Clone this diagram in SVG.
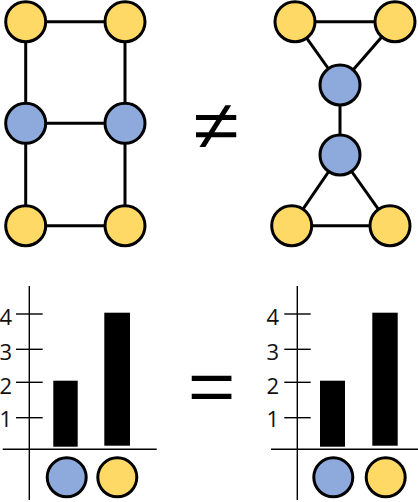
<svg xmlns="http://www.w3.org/2000/svg" width="418" height="502" viewBox="0 0 418 502">
<style>
.e{stroke:#000;stroke-width:3;fill:none}
.ax{stroke:#000;stroke-width:1.4;fill:none}
.y{fill:#FFD966;stroke:#000;stroke-width:3}
.b{fill:#8EA9DB;stroke:#000;stroke-width:3}
.lbl{font-family:"Open Sans","Liberation Sans",sans-serif;font-size:22px;fill:#111}
.sym{font-family:"Liberation Sans",sans-serif;fill:#000}
</style>
<rect width="418" height="502" fill="#fff"/>
<g id="connectors">
<line class="e" x1="25.7" y1="21.7" x2="125" y2="21.7"/>
<line class="e" x1="25.7" y1="21.7" x2="25.7" y2="225.7"/>
<line class="e" x1="125" y1="21.7" x2="125" y2="225.7"/>
<line class="e" x1="25.7" y1="123.3" x2="125" y2="123.3"/>
<line class="e" x1="25.7" y1="225.7" x2="125" y2="225.7"/>
<line class="e" x1="295" y1="21.7" x2="395" y2="21.7"/>
<line class="e" x1="295" y1="21.7" x2="340" y2="85"/>
<line class="e" x1="395" y1="21.7" x2="340" y2="85"/>
<line class="e" x1="340" y1="85" x2="340" y2="155"/>
<line class="e" x1="340" y1="155" x2="291.7" y2="225.7"/>
<line class="e" x1="340" y1="155" x2="390" y2="225.7"/>
<line class="e" x1="291.7" y1="225.7" x2="390" y2="225.7"/>
</g>
<g id="n1"><circle class="y" cx="25.7" cy="21.7" r="20"/></g>
<g id="n2"><circle class="y" cx="125" cy="21.7" r="20"/></g>
<g id="n3"><circle class="b" cx="25.7" cy="123.3" r="20"/></g>
<g id="n4"><circle class="b" cx="125" cy="123.3" r="20"/></g>
<g id="n5"><circle class="y" cx="25.7" cy="225.7" r="20"/></g>
<g id="n6"><circle class="y" cx="125" cy="225.7" r="20"/></g>
<g id="m1"><circle class="y" cx="295" cy="21.7" r="20"/></g>
<g id="m2"><circle class="y" cx="395" cy="21.7" r="20"/></g>
<g id="m3"><circle class="b" cx="340" cy="85" r="20"/></g>
<g id="m4"><circle class="b" cx="340" cy="155" r="20"/></g>
<g id="m5"><circle class="y" cx="291.7" cy="225.7" r="20"/></g>
<g id="m6"><circle class="y" cx="390" cy="225.7" r="20"/></g>
<text class="sym" font-size="69" text-anchor="middle" transform="translate(216.3,149) scale(1.2,1)">≠</text>
<text class="sym" font-size="73" text-anchor="middle" transform="translate(211.5,411) scale(1.12,1)">=</text>
<g id="chart-left">
<line class="ax" x1="29.3" y1="286" x2="29.3" y2="500"/>
<line class="ax" x1="2.7" y1="449.3" x2="156.7" y2="449.3"/>
<line class="ax" x1="16" y1="314" x2="42.7" y2="314"/>
<line class="ax" x1="16" y1="349.3" x2="42.7" y2="349.3"/>
<line class="ax" x1="16" y1="382.3" x2="42.7" y2="382.3"/>
<line class="ax" x1="16" y1="417.7" x2="42.7" y2="417.7"/>
<text class="lbl" x="12" y="325" text-anchor="end">4</text>
<text class="lbl" x="12" y="360" text-anchor="end">3</text>
<text class="lbl" x="12" y="393.5" text-anchor="end">2</text>
<text class="lbl" x="12" y="426.7" text-anchor="end">1</text>
<rect x="53.3" y="380.7" width="24.4" height="66" fill="#000"/>
<rect x="104.3" y="312.7" width="25.7" height="133" fill="#000"/>
<circle class="b" cx="66.7" cy="477.3" r="19.5"/>
<circle class="y" cx="117.3" cy="477.3" r="19.5"/>
</g>
<g id="chart-right">
<line class="ax" x1="297.3" y1="286" x2="297.3" y2="500"/>
<line class="ax" x1="271" y1="449.3" x2="418" y2="449.3"/>
<line class="ax" x1="284.3" y1="314" x2="310.7" y2="314"/>
<line class="ax" x1="284.3" y1="349.3" x2="310.7" y2="349.3"/>
<line class="ax" x1="284.3" y1="382.3" x2="310.7" y2="382.3"/>
<line class="ax" x1="284.3" y1="417.7" x2="310.7" y2="417.7"/>
<text class="lbl" x="272.8" y="325" text-anchor="middle">4</text>
<text class="lbl" x="272.8" y="360" text-anchor="middle">3</text>
<text class="lbl" x="272.8" y="393.5" text-anchor="middle">2</text>
<text class="lbl" x="272.8" y="426.7" text-anchor="middle">1</text>
<rect x="320" y="380.7" width="25" height="66" fill="#000"/>
<rect x="372.3" y="312.7" width="25.4" height="133" fill="#000"/>
<circle class="b" cx="333.3" cy="477.3" r="19.5"/>
<circle class="y" cx="385.7" cy="477.3" r="19.5"/>
</g>
</svg>
